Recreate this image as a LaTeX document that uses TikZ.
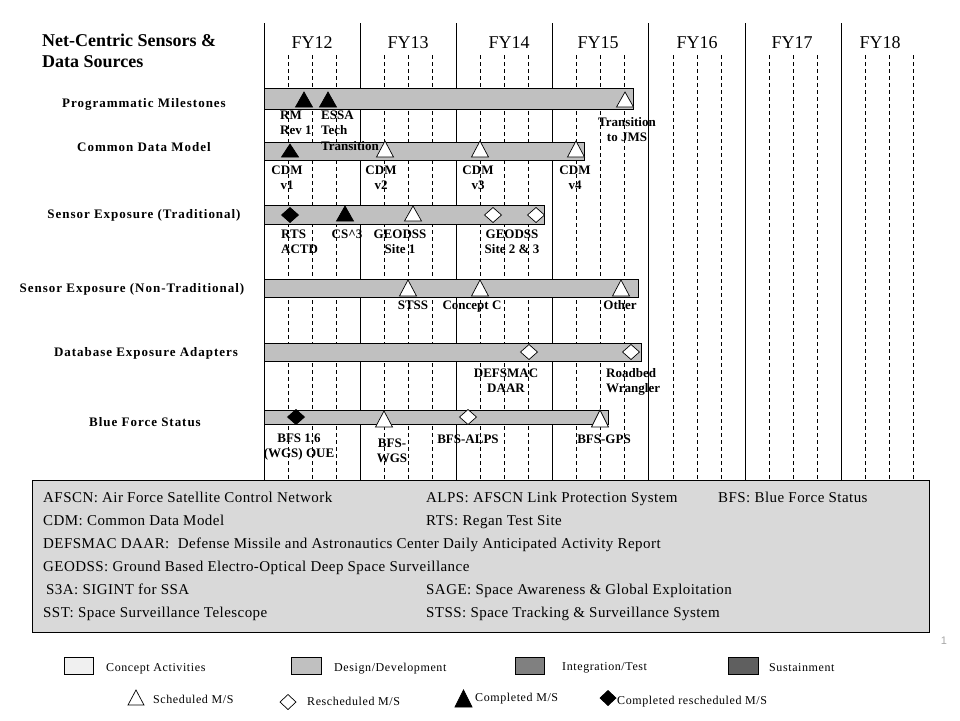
\documentclass[tikz,border=0pt]{standalone}
\usepackage{fontspec}
\setmainfont{Liberation Serif}
\newfontfamily\rowfont[LetterSpace=7.5]{Liberation Serif}
\newfontfamily\acrfont[LetterSpace=3]{Liberation Serif}
\newfontfamily\keyfont[LetterSpace=5]{Liberation Serif}
\newfontfamily\pagefont{Liberation Sans}
\definecolor{bargray}{HTML}{C0C0C0}
\definecolor{boxgray}{HTML}{D9D9D9}
\definecolor{conceptgray}{HTML}{F0F0F0}
\definecolor{testgray}{HTML}{808080}
\definecolor{sustgray}{HTML}{5F5F5F}

\begin{document}
\begin{tikzpicture}[x=1pt,y=-1pt,
		bar/.style={draw, line width=0.8pt, fill=bargray},
		opensym/.style={draw, line width=0.7pt, fill=white},
		donesym/.style={draw, line width=0.7pt, fill=black},
		yearlbl/.style={font=\fontsize{18}{20}\selectfont, inner sep=0, anchor=base},
		rowlbl/.style={font=\rowfont\bfseries\fontsize{13}{15}\selectfont, inner sep=0, anchor=base},
		mslbl/.style={font=\bfseries\fontsize{13}{15.5}\selectfont, inner sep=0, align=center, anchor=base},
		acrlbl/.style={font=\acrfont\fontsize{15}{17}\selectfont, inner sep=0, anchor=base west},
		keylbl/.style={font=\keyfont\fontsize{12}{14}\selectfont, inner sep=0, anchor=base west}]
	\useasboundingbox (0,0) rectangle (960,720);

	% time grid
	\foreach \k in {0,...,6}
		\draw[line width=0.8pt] ({264+96.2*\k},23) -- ({264+96.2*\k},480);
	\foreach \k in {0,...,6}
		\foreach \q in {1,2,3}
			\draw[line width=0.7pt, dash pattern=on 4pt off 3pt] ({264+96.2*\k+24.05*\q},55) -- ({264+96.2*\k+24.05*\q},480);
	\foreach \yr/\xc in {12/312, 13/408, 14/509, 15/598, 16/697, 17/792, 18/880}
		\node[yearlbl] (fy\yr) at (\xc,48.3) {FY\yr};

	% multi-line nodes: base = baseline of last line
	\node[font=\bfseries\fontsize{18}{21}\selectfont, inner sep=0, align=left, anchor=base west] (title) at (42,67.7) {Net-Centric Sensors \&\\Data Sources};

	% rows
	\node[rowlbl] (progms) at (144,107) {Programmatic Milestones};
	\node[rowlbl] (cdmrow) at (144,151.5) {Common Data Model};
	\node[rowlbl] (sensortrad) at (144,218) {Sensor Exposure (Traditional)};
	\node[rowlbl] (sensornon) at (132,292.5) {Sensor Exposure (Non-Traditional)};
	\node[rowlbl] (dbadapt) at (146,356) {Database Exposure Adapters};
	\node[rowlbl] (bfsrow) at (145,426.5) {Blue Force Status};

	\draw[bar] (264,88) rectangle (633,109);
	\draw[bar] (264,142) rectangle (584,160);
	\draw[bar] (264,205) rectangle (544,224);
	\draw[bar] (264,279) rectangle (638,297);
	\draw[bar] (264,343) rectangle (641,361);
	\draw[bar] (264,410) rectangle (608,424);

	% milestones: triangles x/base/apex
	\foreach \x/\b/\t in {304/107/92, 328/107/92, 290/157/144, 345/221/206}
		\draw[donesym] (\x-8.5,\b) -- (\x+8.5,\b) -- (\x,\t) -- cycle;
	\foreach \x/\b/\t in {625/107/92, 385/157/141, 480/157/141, 576/157/141, 413/221/206,
			408/296/280, 480/296/280, 621/296/280, 384/427/411, 600/427/410}
		\draw[opensym] (\x-8.5,\b) -- (\x+8.5,\b) -- (\x,\t) -- cycle;
	% milestones: diamonds
	\foreach \x/\y in {290/215, 296/417}
		\draw[donesym] (\x-8.5,\y) -- (\x,\y-7.5) -- (\x+8.5,\y) -- (\x,\y+7.5) -- cycle;
	\foreach \x/\y in {493/215, 536/215, 529/352, 631/352, 468/417}
		\draw[opensym] (\x-8.5,\y) -- (\x,\y-7.5) -- (\x+8.5,\y) -- (\x,\y+7.5) -- cycle;

	\node[mslbl, align=left, anchor=base west] (rm) at (280,134.5) {RM\\Rev 1};
	\node[mslbl, align=left, anchor=base west] (essa) at (321,150) {ESSA\\Tech\\Transition};
	\node[mslbl] (jms) at (627,141.5) {Transition\\to JMS};
	\node[mslbl] (cdm1) at (287,189.5) {CDM\\v1};
	\node[mslbl] (cdm2) at (381,189.5) {CDM\\v2};
	\node[mslbl] (cdm3) at (478,189.5) {CDM\\v3};
	\node[mslbl] (cdm4) at (575,189.5) {CDM\\v4};
	\node[mslbl, align=left, anchor=base west] (rts) at (281,253.5) {RTS\\ACTD};
	\node[mslbl] (cs3) at (347,238) {CS\textasciicircum 3};
	\node[mslbl] (geo1) at (400,253.5) {GEODSS\\Site 1};
	\node[mslbl] (geo23) at (512,253.5) {GEODSS\\Site 2 \& 3};
	\node[mslbl] (stss) at (413,309) {STSS};
	\node[mslbl] (concc) at (472,309) {Concept C};
	\node[mslbl] (other) at (620,309) {Other};
	\node[mslbl] (defs) at (506,392.5) {DEFSMAC\\DAAR};
	\node[mslbl, align=left, anchor=base west] (road) at (606,392.5) {Roadbed\\Wrangler};
	\node[mslbl] (bfs16) at (299,457.5) {BFS 1.6\\(WGS) OUE};
	\node[mslbl] (bfswgs) at (392,462.5) {BFS-\\WGS};
	\node[mslbl] (alps) at (468,443) {BFS-ALPS};
	\node[mslbl] (gps) at (604,443) {BFS-GPS};

	% acronyms
	\draw[line width=0.8pt, fill=boxgray] (32,480) rectangle (929,632);
	\node[acrlbl] (afscn) at (43,502) {AFSCN: Air Force Satellite Control Network};
	\node[acrlbl] (alpsacr) at (426,502) {ALPS: AFSCN Link Protection System};
	\node[acrlbl] (bfsacr) at (718,502) {BFS: Blue Force Status};
	\node[acrlbl] (cdmacr) at (43,525) {CDM: Common Data Model};
	\node[acrlbl] (rtsacr) at (426,525) {RTS: Regan Test Site};
	\node[acrlbl] (defsacr) at (43,548) {DEFSMAC DAAR:\ \ Defense Missile and Astronautics Center Daily Anticipated Activity Report};
	\node[acrlbl] (geoacr) at (43,571) {GEODSS: Ground Based Electro-Optical Deep Space Surveillance};
	\node[acrlbl] (s3aacr) at (46,594) {S3A: SIGINT for SSA};
	\node[acrlbl] (sageacr) at (426,594) {SAGE: Space Awareness \& Global Exploitation};
	\node[acrlbl] (sstacr) at (43,617) {SST: Space Surveillance Telescope};
	\node[acrlbl] (stssacr) at (426,617) {STSS: Space Tracking \& Surveillance System};

	\node[font=\pagefont\fontsize{11}{12}\selectfont, text=black!35, inner sep=0] (pgnum) at (944,641) {1};

	% key
	\draw[line width=0.7pt, fill=conceptgray] (64,657) rectangle (93,674);
	\node[keylbl] (kconc) at (106,671) {Concept Activities};
	\draw[line width=0.7pt, fill=bargray] (291,657) rectangle (321,674);
	\node[keylbl] (kdes) at (334,671) {Design/Development};
	\draw[line width=0.7pt, fill=testgray] (515,657) rectangle (544,674);
	\node[keylbl] (kint) at (562,670) {Integration/Test};
	\draw[line width=0.7pt, fill=sustgray] (728,657) rectangle (758,674);
	\node[keylbl] (ksust) at (769,671) {Sustainment};
	\draw[opensym] (128,705) -- (144,705) -- (136,690) -- cycle;
	\node[keylbl] (ksch) at (153,703.5) {Scheduled M/S};
	\draw[opensym] (280,702) -- (288,694.5) -- (296,702) -- (288,709.5) -- cycle;
	\node[keylbl] (kres) at (307,705) {Rescheduled M/S};
	\draw[donesym] (455,707) -- (472,707) -- (463.5,690) -- cycle;
	\node[keylbl] (kcomp) at (475,701.5) {Completed M/S};
	\draw[donesym] (600,698) -- (608,690.5) -- (616,698) -- (608,705.5) -- cycle;
	\node[keylbl] (kcres) at (617,704) {Completed rescheduled M/S};
\end{tikzpicture}
\end{document}
